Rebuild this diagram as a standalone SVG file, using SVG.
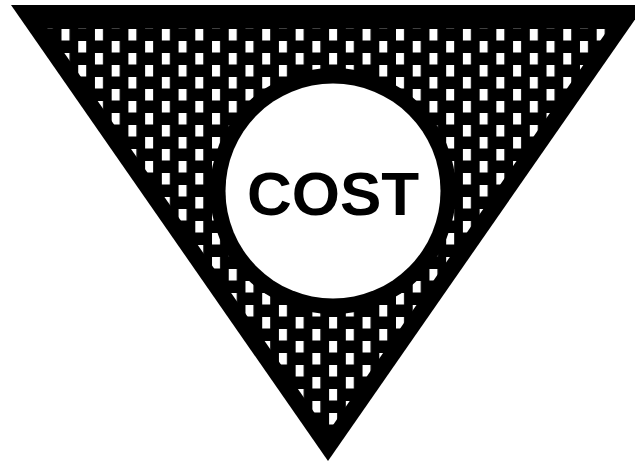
<svg xmlns="http://www.w3.org/2000/svg" width="635" height="462" viewBox="0 0 635 462">
  <style>
    .label { font-family: "Liberation Sans", Arial, sans-serif; font-weight: bold; font-size: 62px; fill: #000; }
  </style>
  <defs>
    <pattern id="dots" patternUnits="userSpaceOnUse" x="61.5" y="29" width="33.45" height="24">
      <rect x="0" y="0" width="8" height="11.5" fill="#fff"/>
      <rect x="16.725" y="12" width="8" height="11.5" fill="#fff"/>
    </pattern>
    <clipPath id="inner">
      <polygon points="47.3,28.5 608.7,28.5 328,432.3"/>
    </clipPath>
  </defs>
  <rect x="0" y="0" width="635" height="462" fill="#fff"/>
  <g id="triangle">
    <polygon points="11,5 645,5 328,461" fill="#000"/>
    <rect x="0" y="0" width="635" height="462" fill="url(#dots)" clip-path="url(#inner)"/>
  </g>
  <g id="cost">
    <circle cx="333" cy="191" r="123" fill="#000"/>
    <circle cx="333" cy="191" r="107.5" fill="#fff"/>
    <text class="label" x="333" y="215" text-anchor="middle">COST</text>
  </g>
</svg>
